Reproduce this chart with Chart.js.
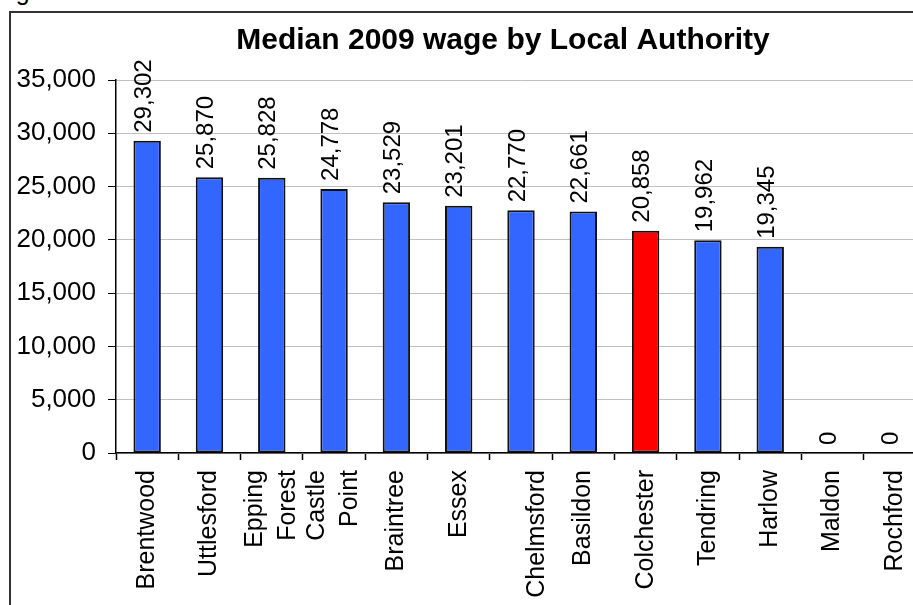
<!DOCTYPE html>
<html>
<head>
<meta charset="utf-8">
<script src="https://cdn.jsdelivr.net/npm/chart.js@4.4.1/dist/chart.umd.min.js"></script>
<style>
  html, body { margin: 0; padding: 0; background: #fff; overflow: hidden; width: 913px; height: 605px; }
  #wrap { position: absolute; left: 0; top: 0; width: 1006px; height: 605px; }
  #frame { position: absolute; left: 9px; top: 11px; width: 1100px; height: 700px;
           border-left: 2px solid #333; border-top: 2px solid #333; pointer-events: none; }
  #cap { position: absolute; left: -5px; top: -21px; font: 25px Arial, "Liberation Sans", sans-serif; line-height: 25px; }
</style>
</head>
<body>
<div id="cap">Figure</div>
<div id="wrap"><canvas id="wageChart" width="1006" height="605"></canvas></div>
<div id="frame"></div>
<script>
// Kategorier och värden
const categories = ['Brentwood', 'Uttlesford', ['Epping', 'Forest'], ['Castle', 'Point'], 'Braintree', 'Essex',
  ['', 'Chelmsford'], 'Basildon', 'Colchester', 'Tendring', 'Harlow', 'Maldon', 'Rochford'];
const wages = [29302, 25870, 25828, 24778, 23529, 23201, 22770, 22661, 20858, 19962, 19345, 0, 0];
const highlight = 'Colchester';
const yMin = 0, yMax = 35000, yStep = 5000;

const FONT = 'Arial, "Liberation Sans", sans-serif';

// Ritar värdeetiketter ovanför staplarna och de roterade kategorietiketterna
const labelPlugin = {
  id: 'wageLabels',
  afterDatasetsDraw(chart) {
    const ctx = chart.ctx;
    const meta = chart.getDatasetMeta(0);
    ctx.save();
    ctx.fillStyle = '#000';

    ctx.font = '24px ' + FONT;
    ctx.textAlign = 'left';
    ctx.textBaseline = 'middle';
    meta.data.forEach((bar, i) => {
      ctx.save();
      ctx.translate(bar.x - 3, bar.y - 8);
      ctx.rotate(-Math.PI / 2);
      ctx.fillText(wages[i].toLocaleString('en-US'), 0, 0);
      ctx.restore();
    });

    const xs = chart.scales.x;
    ctx.font = '25px ' + FONT;
    ctx.textAlign = 'right';
    categories.forEach((lab, i) => {
      const lines = Array.isArray(lab) ? lab : [lab];
      const cx = xs.getPixelForValue(i);
      lines.forEach((t, j) => {
        ctx.save();
        ctx.translate(cx + (j - (lines.length - 1) / 2) * 33, xs.top + 17);
        ctx.rotate(-Math.PI / 2);
        ctx.fillText(t, 0, 0);
        ctx.restore();
      });
    });
    ctx.restore();
  }
};

new Chart(document.getElementById('wageChart').getContext('2d'), {
  type: 'bar',
  data: {
    labels: categories,
    datasets: [{
      data: wages,
      backgroundColor: categories.map(c => c === highlight ? '#FF0000' : '#3366FF'),
      borderColor: '#111',
      borderWidth: 2,
      borderSkipped: false,
      barPercentage: 0.44,
      categoryPercentage: 1.0
    }]
  },
  options: {
    responsive: false,
    animation: false,
    devicePixelRatio: 1,
    layout: { padding: 0 },
    plugins: {
      legend: { display: false },
      tooltip: { enabled: false },
      title: {
        display: true,
        text: 'Median 2009 wage by Local Authority',
        color: '#000',
        font: { family: FONT, size: 30, weight: 'bold' },
        padding: { top: 23, bottom: 21 }
      }
    },
    scales: {
      x: {
        grid: { drawOnChartArea: false, tickLength: 7, tickColor: '#000', tickWidth: 1.5 },
        border: { color: '#000', width: 1.5 },
        ticks: { display: false },
        afterFit: s => { s.height = 152; }
      },
      y: {
        min: yMin,
        max: yMax,
        ticks: {
          stepSize: yStep,
          color: '#000',
          padding: 12,
          font: { family: FONT, size: 26 },
          callback: v => v.toLocaleString('en-US')
        },
        grid: { color: '#c0c0c0', tickColor: '#000', tickLength: 8 },
        border: { color: '#000', width: 1.5 },
        afterFit: s => { s.width = 116; }
      },
      // tom axel till höger, bara för att skjuta ut diagrammet utanför bilden
      y2: {
        position: 'right',
        grid: { display: false },
        ticks: { display: false },
        border: { display: false },
        afterFit: s => { s.width = 80; }
      }
    }
  },
  plugins: [labelPlugin]
});
</script>
</body>
</html>
